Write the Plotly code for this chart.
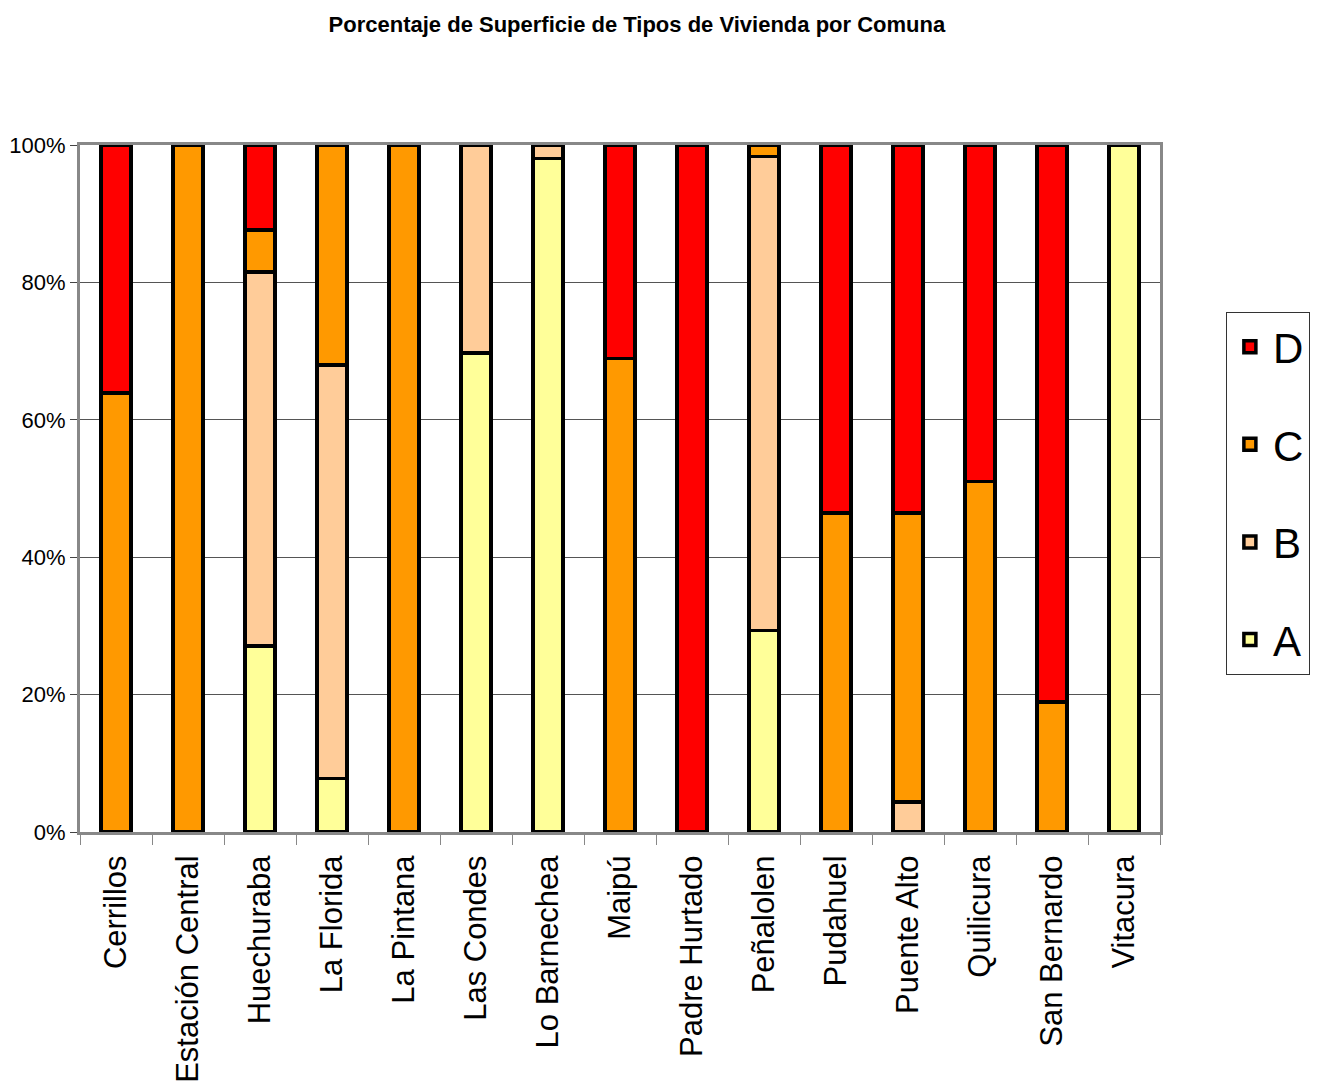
import plotly.graph_objects as go

comunas = ["Cerrillos", "Estación Central", "Huechuraba", "La Florida", "La Pintana",
           "Las Condes", "Lo Barnechea", "Maipú", "Padre Hurtado", "Peñalolen",
           "Pudahuel", "Puente Alto", "Quilicura", "San Bernardo", "Vitacura"]

A = [0, 0, 27.1, 7.8, 0, 69.7, 98.0, 0, 0, 29.3, 0, 0, 0, 0, 100]
B = [0, 0, 54.4, 60.2, 0, 30.3, 2.0, 0, 0, 69.0, 0, 4.4, 0, 0, 0]
C = [63.9, 100, 6.1, 32.0, 100, 0, 0, 68.9, 0, 1.7, 46.4, 42.0, 51.0, 18.9, 0]
D = [36.1, 0, 12.4, 0, 0, 0, 0, 31.1, 100, 0, 53.6, 53.6, 49.0, 81.1, 0]

series = [("A", A, "#FFFF99", 4), ("B", B, "#FFCC99", 3), ("C", C, "#FF9900", 2), ("D", D, "#FF0000", 1)]
y_ticks = [0, 20, 40, 60, 80, 100]
y_labels = ["0%", "20%", "40%", "60%", "80%", "100%"]

fig = go.Figure()
for name, vals, col, rank in series:
    fig.add_trace(go.Bar(
        x=comunas, y=vals, name=name, legendgroup=name, legendrank=rank,
        marker=dict(color=col, line=dict(color="black", width=3.5)),
        width=0.42,
    ))

fig.update_layout(
    barmode="stack",
    width=1324, height=1092,
    paper_bgcolor="white", plot_bgcolor="white",
    margin=dict(l=72, r=172, t=137, b=268, autoexpand=False),
    title=dict(text="<b>Porcentaje de Superficie de Tipos de Vivienda por Comuna</b>",
               x=0.475, xanchor="center", y=0.985, yanchor="middle",
               font=dict(family="Liberation Sans, Arial", size=22, color="black")),
    font=dict(family="Liberation Sans, Arial", color="black"),
    legend=dict(x=1.061, xanchor="left", y=0.757, yanchor="top",
                traceorder="grouped", tracegroupgap=40,
                bordercolor="#333333", borderwidth=1,
                font=dict(size=42, family="Liberation Sans, Arial"),
                itemwidth=36),
    showlegend=True,
)
fig.update_xaxes(
    type="category", tickangle=-90, tickfont=dict(size=31),
    ticks="outside", tickson="boundaries", ticklen=10, tickcolor="#888888",
    ticklabelstandoff=8, automargin=False,
    showline=True, linecolor="#888888", linewidth=3, mirror=True,
    showgrid=False,
)
fig.update_yaxes(
    range=[0, 100], tickmode="array", tickvals=y_ticks, ticktext=y_labels,
    tickfont=dict(size=22), automargin=False,
    ticks="outside", ticklen=7, tickcolor="#444444",
    showline=True, linecolor="#888888", linewidth=3, mirror=True,
    showgrid=True, gridcolor="#555555", gridwidth=1,
)

fig.write_html("out.html")
